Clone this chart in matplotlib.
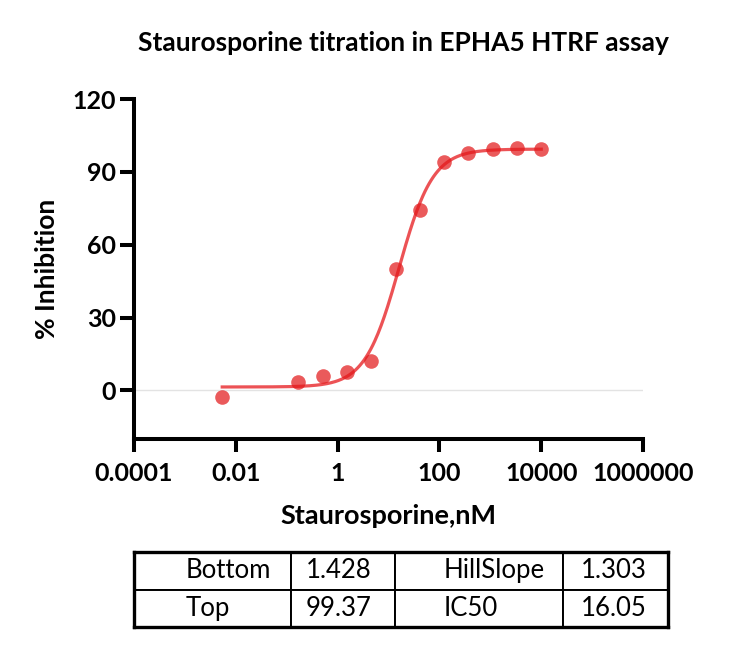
import numpy as np
import matplotlib.pyplot as plt

plt.rcParams['font.family'] = ['Lato', 'DejaVu Sans']

# staurosporine concentration (nM) and % inhibition
conc = [0.0054, 0.169, 0.508, 1.524, 4.572, 13.72, 41.15, 123.5, 370.4, 1111, 3333, 10000]
inhib = [-2.5, 3.3, 5.9, 7.6, 12.2, 50.0, 74.3, 94.0, 97.7, 99.3, 99.8, 99.5]

# 4PL fit parameters from the table
bottom, top, hill, ic50 = 1.428, 99.37, 1.303, 16.05
fit_labels = [['Bottom', '1.428', 'HillSlope', '1.303'],
              ['Top', '99.37', 'IC50', '16.05']]

xticks = [1e-4, 1e-2, 1, 1e2, 1e4, 1e6]
xticklabels = ['0.0001', '0.01', '1', '100', '10000', '1000000']
yticks = [0, 30, 60, 90, 120]

fig = plt.figure(figsize=(7.32, 6.46), dpi=100)
ax = fig.add_axes([0.1831, 0.3204, 0.6954, 0.5263])

xs = np.logspace(np.log10(conc[0]), np.log10(conc[-1]), 300)
ys = bottom + (top - bottom) / (1 + (ic50 / xs) ** hill)

ax.axhline(0, color='#e3e3e3', lw=1, zorder=1)
ax.plot(xs, ys, color='#e8272b', lw=2.3, alpha=0.8, zorder=2)
ax.plot(conc, inhib, 'o', color='#e31a1c', ms=10.5, alpha=0.72, mec='none', zorder=3)

ax.set_xscale('log')
ax.set_xlim(1e-4, 1e6)
ax.set_ylim(-20, 120)
ax.set_xticks(xticks)
ax.set_xticklabels(xticklabels)
ax.minorticks_off()
ax.set_yticks(yticks)

for s in ['top', 'right']:
    ax.spines[s].set_visible(False)
for s in ['left', 'bottom']:
    ax.spines[s].set_linewidth(2.9)
ax.tick_params(axis='both', width=2.9, labelsize=18)
ax.tick_params(axis='x', length=9.5, pad=7)
ax.tick_params(axis='y', length=10, pad=3)
for lab in ax.get_xticklabels() + ax.get_yticklabels():
    lab.set_fontweight('bold')

ax.set_xlabel('Staurosporine,nM', fontsize=19.5, fontweight='bold', labelpad=14)
ax.set_ylabel('% Inhibition', fontsize=19, fontweight='bold', labelpad=10)
fig.text(0.551, 0.933, 'Staurosporine titration in EPHA5 HTRF assay',
         fontsize=19, fontweight='bold', ha='center', va='center')

# parameter table
tax = fig.add_axes([0.1831, 0.0294, 0.7295, 0.1161])
tax.set_xticks([])
tax.set_yticks([])
for s in tax.spines.values():
    s.set_linewidth(2.4)
tb = tax.table(cellText=fit_labels, cellLoc='left', bbox=[0, 0, 1, 1],
               colWidths=[157, 104, 168, 105])
tb.auto_set_font_size(False)
pads = [0.33, 0.14, 0.29, 0.17]
for (r, c), cell in tb.get_celld().items():
    cell.set_linewidth(1.4)
    cell.PAD = pads[c]
    cell.get_text().set_fontsize(18.5)

fig.savefig('out.png', dpi=100)
